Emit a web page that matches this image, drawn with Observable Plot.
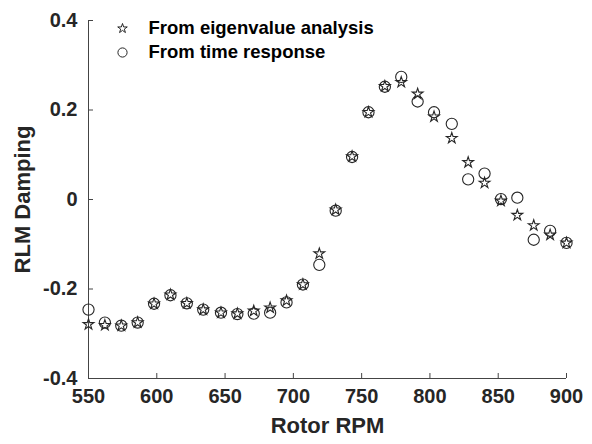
<!DOCTYPE html>
<html>
<head>
<meta charset="utf-8">
<script src="https://cdn.jsdelivr.net/npm/d3@7"></script>
<script src="https://cdn.jsdelivr.net/npm/@observablehq/plot@0.6"></script>
<style>
  html, body { margin: 0; padding: 0; background: #fff; }
</style>
</head>
<body>
<div id="chart"></div>
<script>
const rpm = [550, 562, 574, 586, 598, 610, 622, 634, 647, 659, 671, 683, 695, 707, 719,
             731, 743, 755, 767, 779, 791, 803, 816, 828, 840, 852, 864, 876, 888, 900];
const eigenDamping = [-0.279, -0.281, -0.282, -0.275, -0.233, -0.213, -0.232, -0.246, -0.253, -0.255,
                      -0.249, -0.242, -0.226, -0.190, -0.121, -0.023, 0.096, 0.195, 0.253, 0.262,
                      0.236, 0.185, 0.137, 0.083, 0.037, -0.003, -0.035, -0.058, -0.079, -0.097];
const timeDamping = [-0.246, -0.275, -0.282, -0.275, -0.233, -0.214, -0.232, -0.246, -0.253, -0.256,
                     -0.255, -0.253, -0.230, -0.190, -0.146, -0.025, 0.095, 0.195, 0.252, 0.274,
                     0.219, 0.195, 0.169, 0.045, 0.058, 0.001, 0.004, -0.090, -0.070, -0.097];
const xTicks = [550, 600, 650, 700, 750, 800, 850, 900];
const yTicks = [-0.4, -0.2, 0, 0.2, 0.4];
const seriesNames = ["From eigenvalue analysis", "From time response"];
const seriesSymbols = ["star", "circle"];

const eigenData = rpm.map((x, i) => ({x, y: eigenDamping[i]}));
const timeData = rpm.map((x, i) => ({x, y: timeDamping[i]}));
const legendData = seriesNames.map((name, i) => ({name, symbol: seriesSymbols[i], row: i}));

const ink = "#262626";
const font = "'Liberation Sans', Arial, sans-serif";
const legendRows = [8, 32];

const chart = Plot.plot({
  width: 592,
  height: 444,
  marginLeft: 88,
  marginRight: 26,
  marginTop: 20,
  marginBottom: 66,
  style: {fontFamily: font, fontWeight: "bold", color: ink, background: "#fff", overflow: "visible"},
  x: {domain: [550, 900]},
  y: {domain: [-0.4, 0.4]},
  marks: [
    Plot.ruleY([-0.4], {stroke: "#444", strokeWidth: 1}),
    Plot.ruleX([550], {stroke: "#444", strokeWidth: 1}),
    Plot.axisX({ticks: xTicks, tickSize: -5, tickPadding: 15, fontSize: 20, fontWeight: "bold",
                stroke: "#444", label: null, tickFormat: d => String(d)}),
    Plot.axisX({ticks: [], tickSize: 0, fontSize: 22, fontWeight: "bold",
                label: "Rotor RPM", labelAnchor: "center", labelArrow: "none", labelOffset: 54}),
    Plot.axisY({ticks: yTicks, tickSize: -5, tickPadding: 16, fontSize: 20, fontWeight: "bold",
                stroke: "#444", label: null, tickFormat: d => d === 0 ? "0" : d.toFixed(1)}),
    Plot.axisY({ticks: [], tickSize: 0, fontSize: 22, fontWeight: "bold",
                label: "RLM Damping", labelAnchor: "center", labelArrow: "none", labelOffset: 74}),
    Plot.dot(eigenData, {x: "x", y: "y", symbol: "star", r: 3.4, stroke: ink, fill: "none", strokeWidth: 1.1}),
    Plot.dot(timeData, {x: "x", y: "y", symbol: "circle", r: 5.6, stroke: ink, fill: "none", strokeWidth: 1.1}),
    ...legendData.map(d => Plot.dot([d], {frameAnchor: "top-left", dx: 34, dy: legendRows[d.row], symbol: "symbol",
                          r: d.symbol === "star" ? 3 : 4.6, stroke: ink, fill: "none", strokeWidth: 1})),
    ...legendData.map(d => Plot.text([d], {frameAnchor: "top-left", dx: 60, dy: legendRows[d.row], text: "name",
                          textAnchor: "start", lineAnchor: "middle", fontSize: 18.5, fontWeight: "bold", fill: "#000"}))
  ]
});
document.getElementById("chart").appendChild(chart);
</script>
</body>
</html>
